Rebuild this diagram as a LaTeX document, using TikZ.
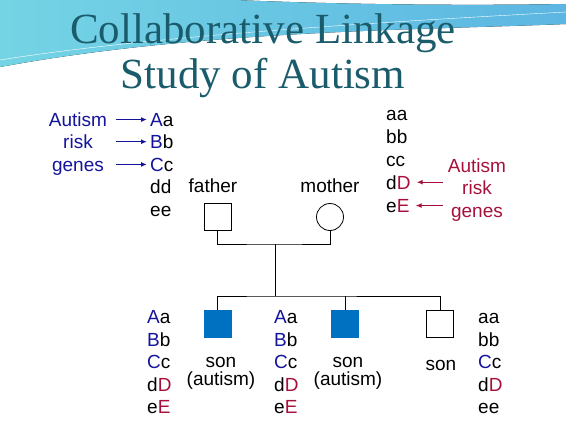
\documentclass[tikz,border=0pt]{standalone}
\usepackage{fontspec}
\setmainfont{Liberation Sans}
\newfontfamily\titlefont{Liberation Serif}
\usetikzlibrary{arrows.meta}
\definecolor{titleteal}{HTML}{1A5C6C}
\definecolor{riskblue}{HTML}{14149C}
\definecolor{riskred}{HTML}{A8103C}
\definecolor{sonblue}{HTML}{0070C0}
\definecolor{swooshL}{HTML}{74D4E4}
\definecolor{swooshR}{HTML}{5CB6E2}
\newcommand{\bl}[1]{\textcolor{riskblue}{#1}}
\newcommand{\rd}[1]{\textcolor{riskred}{#1}}
\begin{document}
\begin{tikzpicture}[x=1pt,y=-1pt,
  every node/.style={font=\fontsize{19}{18}\selectfont},
  geno/.style={anchor=base west, inner sep=0pt},
  lab/.style={anchor=base, inner sep=0pt},
  male/.style={draw, thick, minimum size=27pt, inner sep=0pt},
  female/.style={draw, thick, circle, minimum size=27pt, inner sep=0pt},
  riskarrow/.style={line width=1.4pt, -{Latex[length=6pt,width=5pt]}}]
\useasboundingbox (0,0) rectangle (566,424);
\fill[white] (0,0) rectangle (566,424);
% banner
\fill[left color=swooshL, right color=swooshR] (0,0) -- (235,0) .. controls (330,4) and (450,6) .. (566,4)
  -- (566,24) .. controls (420,30) and (200,30) .. (0,67) -- cycle;
\draw[white, thin] (0,60) .. controls (150,36) and (380,22) .. (566,12);

\node[lab, text=titleteal, font=\titlefont\fontsize{43}{45}\selectfont] (title1) at (263,43) {Collaborative Linkage};
\node[lab, text=titleteal, font=\titlefont\fontsize{43}{45}\selectfont] (title2) at (263,88) {Study of Autism};

% parents
\node[male] (father) at (217.5,217) {};
\node[female] (mother) at (330,217) {};
\node[lab] (fatherlab) at (213,192) {father};
\node[lab] (motherlab) at (330,192) {mother};
\coordinate (mate) at (275,244);
\coordinate (sib) at (275,296);
\draw[thick] (father.south) |- (mate) -| (mother.south);
\draw[thick] (mate) -- (sib);

% sons
\node[male, fill=sonblue, draw=sonblue] (son1) at (217.5,324) {};
\node[male, fill=sonblue, draw=sonblue] (son2) at (345,324) {};
\node[male] (son3) at (440,324) {};
\draw[thick] (son1.north) |- (sib) -| (son3.north);
\draw[thick] (son2.north) -- (son2.north |- sib);
\node[lab, align=center] (son1lab) at (221,385) {son\\(autism)};
\node[lab, align=center] (son2lab) at (348,385) {son\\(autism)};
\node[lab] (son3lab) at (441,370) {son};

% father genotype
\node[lab, text=riskblue] (riskL1) at (78,126) {Autism};
\node[lab, text=riskblue] (riskL2) at (78,148.5) {risk};
\node[lab, text=riskblue] (riskL3) at (78,171) {genes};
\node[geno] (fA) at (150,126) {\bl{A}a};
\node[geno] (fB) at (150,148.5) {\bl{B}b};
\node[geno] (fC) at (150,171) {\bl{C}c};
\node[geno] (fD) at (150,193.5) {dd};
\node[geno] (fE) at (150,216) {ee};
\coordinate (tailL) at (116,0);
\draw[riskarrow, riskblue, shorten >=3pt] (fA.west -| tailL) -- (fA.west);
\draw[riskarrow, riskblue, shorten >=3pt] (fB.west -| tailL) -- (fB.west);
\draw[riskarrow, riskblue, shorten >=3pt] (fC.west -| tailL) -- (fC.west);

% mother genotype
\node[geno] (mA) at (386,120) {aa};
\node[geno] (mB) at (386,143) {bb};
\node[geno] (mC) at (386,166) {cc};
\node[geno] (mD) at (386,189) {d\rd{D}};
\node[geno] (mE) at (386,212) {e\rd{E}};
\node[lab, text=riskred] (riskR1) at (477,172) {Autism};
\node[lab, text=riskred] (riskR2) at (477,194.5) {risk};
\node[lab, text=riskred] (riskR3) at (477,217) {genes};
\coordinate (tailR) at (443,0);
\draw[riskarrow, riskred, shorten >=6pt] (mD.east -| tailR) -- (mD.east);
\draw[riskarrow, riskred, shorten >=6pt] (mE.east -| tailR) -- (mE.east);

% sons genotypes
\node[geno] (s1A) at (147,323.5) {\bl{A}a};
\node[geno] (s1B) at (147,346) {\bl{B}b};
\node[geno] (s1C) at (147,368.5) {\bl{C}c};
\node[geno] (s1D) at (147,391) {d\rd{D}};
\node[geno] (s1E) at (147,413.5) {e\rd{E}};
\node[geno] (s2A) at (274,323.5) {\bl{A}a};
\node[geno] (s2B) at (274,346) {\bl{B}b};
\node[geno] (s2C) at (274,368.5) {\bl{C}c};
\node[geno] (s2D) at (274,391) {d\rd{D}};
\node[geno] (s2E) at (274,413.5) {e\rd{E}};
\node[geno] (s3A) at (478,323.5) {aa};
\node[geno] (s3B) at (478,346) {bb};
\node[geno] (s3C) at (478,368.5) {\bl{C}c};
\node[geno] (s3D) at (478,391) {d\rd{D}};
\node[geno] (s3E) at (478,413.5) {ee};
\end{tikzpicture}
\end{document}
